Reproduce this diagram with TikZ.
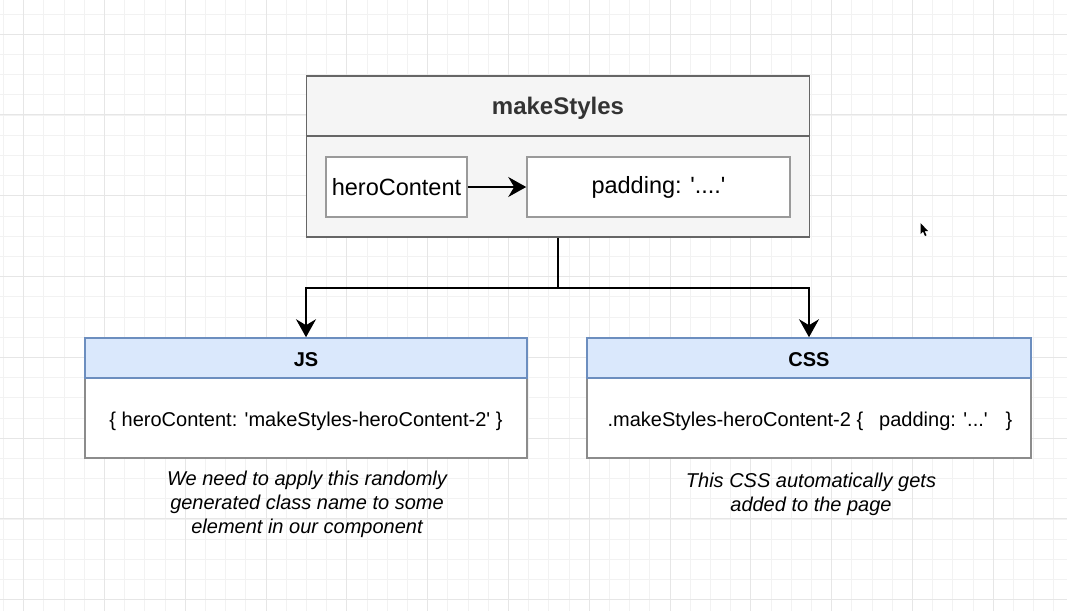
\documentclass[tikz,border=0pt]{standalone}
\usepackage{fontspec}
\setmainfont{Liberation Sans}
\usetikzlibrary{arrows.meta}
\definecolor{gridminor}{HTML}{F2F2F2}
\definecolor{gridmajor}{HTML}{E6E6E6}
\definecolor{outerfill}{HTML}{F5F5F5}
\definecolor{outerdraw}{HTML}{666666}
\definecolor{innerdraw}{HTML}{9A9A9A}
\definecolor{bluefill}{HTML}{DAE8FC}
\definecolor{bluedraw}{HTML}{6C8EBF}
\definecolor{bodydraw}{HTML}{8C8C8C}
\definecolor{titletext}{HTML}{333333}
\newcommand{\sq}{\textquotesingle}
\tikzset{
  outerbox/.style={draw=outerdraw, fill=outerfill, line width=1.6pt, rectangle, inner sep=0pt},
  titlebox/.style={draw=outerdraw, fill=outerfill, line width=1.6pt, rectangle, inner sep=0pt},
  titlelabel/.style={inner sep=0pt, font=\fontsize{24}{28}\selectfont\bfseries, text=titletext},
  innerbox/.style={draw=innerdraw, fill=white, line width=1.6pt, rectangle, inner sep=0pt,
     font=\fontsize{23.5}{28}\selectfont},
  bluehead/.style={draw=bluedraw, fill=bluefill, line width=1.6pt, rectangle, inner sep=0pt},
  headlabel/.style={inner sep=0pt, font=\fontsize{20}{24}\selectfont\bfseries},
  bodybox/.style={draw=bodydraw, fill=white, line width=1.6pt, rectangle, inner sep=0pt},
  bodylabel/.style={inner sep=0pt, font=\fontsize{20}{24}\selectfont},
  notetext/.style={align=center, inner sep=0pt, font=\fontsize{20}{24}\selectfont\itshape},
  conn/.style={line width=1.8pt, black},
  tip/.style={-{Stealth[length=18pt,width=20pt,inset=6pt]}}
}
\begin{document}
\begin{tikzpicture}[x=1pt,y=-1pt]
\useasboundingbox (0,0) rectangle (1067,611);
\fill[white] (0,0) rectangle (1067,611);
% grid
\foreach \i in {0,...,52} {
  \pgfmathsetmacro{\gx}{3.3+20.2*\i}
  \draw[gridminor, line width=0.8pt] (\gx,0) -- (\gx,611);
}
\foreach \i in {0,...,30} {
  \pgfmathsetmacro{\gy}{14+20.2*\i}
  \draw[gridminor, line width=0.8pt] (0,\gy) -- (1067,\gy);
}
\foreach \i in {0,...,13} {
  \pgfmathsetmacro{\gx}{23.5+80.8*\i}
  \draw[gridmajor, line width=0.8pt] (\gx,0) -- (\gx,611);
}
\foreach \i in {0,...,7} {
  \pgfmathsetmacro{\gy}{34+80.8*\i}
  \draw[gridmajor, line width=0.8pt] (0,\gy) -- (1067,\gy);
}

% makeStyles container
\node[outerbox, minimum width=503pt, minimum height=161pt] (outer) at (558,156.5) {};
\node[titlebox, minimum width=503pt, minimum height=60pt, anchor=north] (title) at (outer.north) {};
\node[titlelabel] (titletxt) at (558,108.5) {makeStyles};
\node[innerbox, minimum width=141pt, minimum height=60pt] (hero) at (396.5,187) {heroContent};
\node[innerbox, minimum width=263pt, minimum height=60pt] (pad) at (658.5,187) {padding: \sq....\sq};
\draw[conn, tip] (hero.east) -- (pad.west);

% JS box
\node[bodybox, minimum width=442pt, minimum height=120pt] (js) at (306,398) {};
\node[bluehead, minimum width=442pt, minimum height=40pt, anchor=north] (jshead) at (js.north) {};
\node[headlabel] (jshtxt) at (306,360) {JS};
\node[bodylabel] (jstext) at (306,421.5) {\{ heroContent: \sq makeStyles-heroContent-2\sq\ \}};

% CSS box
\node[bodybox, minimum width=444pt, minimum height=120pt] (css) at (809,398) {};
\node[bluehead, minimum width=444pt, minimum height=40pt, anchor=north] (csshead) at (css.north) {};
\node[headlabel] (csshtxt) at (809,360) {CSS};
\node[bodylabel] (csstext) at (810,421.5) {.makeStyles-heroContent-2 \{\hspace{16pt}padding: \sq...\sq\hspace{18pt}\}};

% connectors
\coordinate (split) at (558,288);
\draw[conn, tip] (outer.south) -- (split) -| (jshead.north);
\draw[conn, tip] (split) -| (csshead.north);

% notes
\node[notetext] (note1) at (307,504) {We need to apply this randomly\\generated class name to some\\element in our component};
\node[notetext] (note2) at (811,494) {This CSS automatically gets\\added to the page};

% mouse cursor
\fill[black] (920.5,223) -- (920.5,234) -- (923,231.5) -- (925,236) -- (926.5,235.3) -- (924.6,231) -- (928,231) -- cycle;
\end{tikzpicture}
\end{document}
